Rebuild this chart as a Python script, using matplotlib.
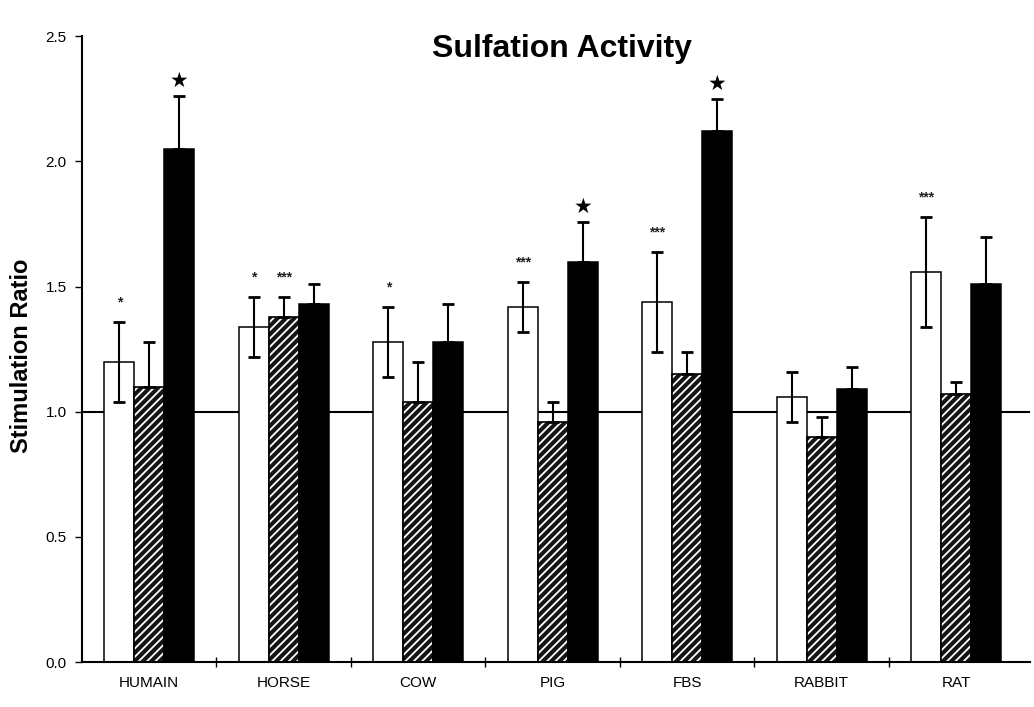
import numpy as np
import matplotlib
matplotlib.use("Agg")
import matplotlib.pyplot as plt

plt.rcParams['font.family'] = ['Liberation Sans', 'DejaVu Sans']
plt.rcParams['hatch.linewidth'] = 1.3

groups = ["HUMAIN", "HORSE", "COW", "PIG", "FBS", "RABBIT", "RAT"]

# three series per group: open, hatched, solid
open_vals = [1.20, 1.34, 1.28, 1.42, 1.44, 1.06, 1.56]
open_err = [0.16, 0.12, 0.14, 0.10, 0.20, 0.10, 0.22]
hatch_vals = [1.10, 1.38, 1.04, 0.96, 1.15, 0.90, 1.07]
hatch_err = [0.18, 0.08, 0.16, 0.08, 0.09, 0.08, 0.05]
solid_vals = [2.05, 1.43, 1.28, 1.60, 2.12, 1.09, 1.51]
solid_err = [0.21, 0.08, 0.15, 0.16, 0.13, 0.09, 0.19]

open_marks = ["*", "*", "*", "***", "***", "", "***"]
hatch_marks = ["", "***", "", "", "", "", ""]
solid_marks = ["\u2605", "", "", "\u2605", "\u2605", "", ""]

fig = plt.figure(figsize=(10.34, 7.07), dpi=100)
ax = fig.add_axes([0.0793, 0.0636, 0.917, 0.885])

x = np.arange(len(groups))
w = 0.223
ebar = dict(fmt="none", ecolor="black", elinewidth=1.5, capsize=4, capthick=2, zorder=4)

# open bars
ax.bar(x - w, open_vals, w, color="white", edgecolor="black", linewidth=1.1, zorder=2)
ax.errorbar(x - w, open_vals, yerr=open_err, **ebar)

# hatched bars: dark fill with light diagonal streaks
ax.bar(x, hatch_vals, w, color="#151515", edgecolor="white", hatch="////",
       linewidth=0, zorder=2)
ax.bar(x, hatch_vals, w, fill=False, edgecolor="black", linewidth=1.2, zorder=3)
ax.errorbar(x, hatch_vals, yerr=[np.zeros(len(x)), hatch_err], **ebar)

# solid bars
ax.bar(x + w, solid_vals, w, color="black", edgecolor="black", linewidth=1.1, zorder=2)
ax.errorbar(x + w, solid_vals, yerr=[np.zeros(len(x)), solid_err], **ebar)

# significance marks
for xs, vals, errs, marks in [(x - w, open_vals, open_err, open_marks),
                              (x, hatch_vals, hatch_err, hatch_marks),
                              (x + w, solid_vals, solid_err, solid_marks)]:
    for xi, v, e, m in zip(xs, vals, errs, marks):
        if not m:
            continue
        if m == "\u2605":
            ax.text(xi, v + e + 0.02, m, ha="center", va="bottom", fontsize=15,
                    family="DejaVu Sans")
        else:
            ax.text(xi, v + e + 0.05, m, ha="center", va="bottom", fontsize=10,
                    fontweight="bold", color="#222222")

ax.axhline(1.0, color="black", linewidth=1.5, zorder=1)

ax.set_ylim(0, 2.5)
ax.set_xlim(-0.5, 6.55)
ax.set_yticks([0.0, 0.5, 1.0, 1.5, 2.0, 2.5])
ax.set_yticklabels(["0.0", "0.5", "1.0", "1.5", "2.0", "2.5"], fontsize=11)
ax.set_xticks(x)
ax.set_xticklabels(groups, fontsize=11)
ax.tick_params(axis="x", length=0, pad=10)
ax.set_xticks(x[:-1] + 0.5, minor=True)
ax.tick_params(axis="x", which="minor", direction="inout", length=7, width=1)
ax.tick_params(axis="y", direction="out", length=5, width=1, pad=6)

for side in ["top", "right"]:
    ax.spines[side].set_visible(False)
for side in ["left", "bottom"]:
    ax.spines[side].set_linewidth(1.5)

ax.set_ylabel("Stimulation Ratio", fontsize=17, fontweight="bold")
ax.yaxis.set_label_coords(-0.052, 0.49)
ax.text(0.506, 0.967, "Sulfation Activity", transform=ax.transAxes,
        ha="center", va="baseline", fontsize=23, fontweight="bold")

fig.savefig("out.png", dpi=100)
